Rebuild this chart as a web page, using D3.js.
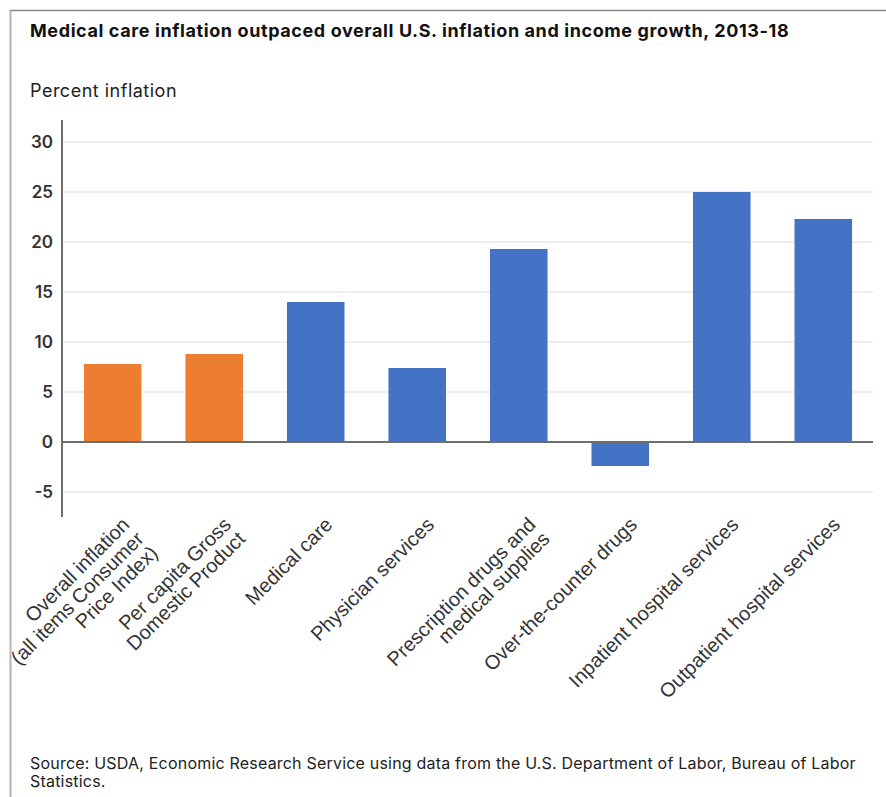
<!DOCTYPE html>
<html>
<head>
<meta charset="utf-8">
<script src="https://cdn.jsdelivr.net/npm/d3@7"></script>
<style>
  body { margin: 0; background: #fff; }
  svg { display: block; }
</style>
</head>
<body>
<svg width="886" height="797"></svg>
<script>
var categories = ["Overall inflation\n(all items Consumer\nPrice Index)", "Per capita Gross\nDomestic Product",
                  "Medical care", "Physician services", "Prescription drugs and\nmedical supplies",
                  "Over-the-counter drugs", "Inpatient hospital services", "Outpatient hospital services"]
var values = [7.8, 8.8, 14.0, 7.4, 19.3, -2.4, 25.0, 22.3]
var groups = ["overall", "overall", "medical", "medical", "medical", "medical", "medical", "medical"]
var yTicks = [-5, 0, 5, 10, 15, 20, 25, 30]

var width = 886, height = 797;
var plotLeft = 62, plotRight = 874;
var uiFont = "Inter, 'Open Sans', sans-serif";

var svg = d3.select('svg');

var color = d3.scaleOrdinal()
                .domain(["overall", "medical"])
                .range(["#ED7D31", "#4472C4"]);

var x = d3.scaleBand()
            .domain(d3.range(categories.length))
            .range([plotLeft, plotRight])
            .paddingInner(0.433)
            .paddingOuter(0.216);

var y = d3.scaleLinear()
            .domain([-7.5, 32.2])
            .range([517, 120]);

// frame
svg.append('line')
    .attr('x1', 10.5).attr('x2', 10.5)
    .attr('y1', 10).attr('y2', height)
    .attr('stroke', '#b4b4b4').attr('stroke-width', 2);
svg.append('line')
    .attr('x1', 10).attr('x2', width)
    .attr('y1', 10.5).attr('y2', 10.5)
    .attr('stroke', '#8a8a8a').attr('stroke-width', 1.5);

svg.append('text')
    .attr('x', 30).attr('y', 37)
    .style('font-family', uiFont)
    .style('font-weight', 700)
    .style('font-size', '18px')
    .style('letter-spacing', '0.6px')
    .attr('fill', '#111')
    .text("Medical care inflation outpaced overall U.S. inflation and income growth, 2013-18");

svg.append('text')
    .attr('x', 30).attr('y', 97)
    .style('font-family', uiFont)
    .style('font-size', '18px')
    .style('letter-spacing', '0.5px')
    .attr('fill', '#222')
    .text("Percent inflation");

// gridlines
svg.append('g').attr('class', 'grid')
    .selectAll('line')
    .data(yTicks.filter(function(d){return d != 0}))
    .enter()
    .append('line')
        .attr('x1', plotLeft).attr('x2', plotRight - 1)
        .attr('y1', function(d){return y(d)})
        .attr('y2', function(d){return y(d)})
        .attr('stroke', '#e8e8e8')
        .attr('stroke-width', 1.5);

// y axis labels
var yAxis = svg.append('g')
    .attr('transform', 'translate(' + 53 + ',0)')
    .call(d3.axisLeft(y).tickValues(yTicks).tickSize(0).tickPadding(0)
            .tickFormat(function(d){return String(d)}));
yAxis.select('.domain').remove();
yAxis.selectAll('text')
    .style('font-family', uiFont)
    .style('font-weight', 600)
    .style('font-size', '17px')
    .attr('fill', '#333');

// bars
svg.append('g').attr('class', 'bars')
    .selectAll('rect')
    .data(values)
    .enter()
    .append('rect')
        .attr('x', function(d, i){return x(i)})
        .attr('width', x.bandwidth())
        .attr('y', function(d){return y(Math.max(0, d))})
        .attr('height', function(d){return Math.abs(y(d) - y(0))})
        .attr('fill', function(d, i){return color(groups[i])});

// axis line + zero line
svg.append('line')
    .attr('x1', plotLeft).attr('x2', plotLeft)
    .attr('y1', y(32.2)).attr('y2', y(-7.5))
    .attr('stroke', '#6e6e6e').attr('stroke-width', 2);
svg.append('line')
    .attr('x1', plotLeft).attr('x2', plotRight - 1)
    .attr('y1', y(0)).attr('y2', y(0))
    .attr('stroke', '#6e6e6e').attr('stroke-width', 2);

// rotated category labels
var labels = svg.append('g').attr('class', 'xlabels')
    .selectAll('g')
    .data(categories)
    .enter()
    .append('g')
        .attr('transform', function(d, i){
            return 'translate(' + (x(i) + x.bandwidth()/2 + 18) + ',' + 526 + ') rotate(-45)'
        });

labels.append('text')
    .style('font-family', "'Liberation Sans', Arial, sans-serif")
    .style('font-size', '20px')
    .style('text-anchor', 'end')
    .attr('fill', '#333')
    .selectAll('tspan')
    .data(function(d){return d.split('\n')})
    .enter()
    .append('tspan')
        .attr('x', 0)
        .attr('dy', function(d, i){return i == 0 ? 0 : 20})
        .text(function(d){return d});

// source
var source = svg.append('text')
    .attr('x', 30).attr('y', 769)
    .style('font-family', uiFont)
    .style('font-size', '16px')
    .style('letter-spacing', '0.2px')
    .attr('fill', '#222');
source.append('tspan').attr('x', 30)
    .text("Source: USDA, Economic Research Service using data from the U.S. Department of Labor, Bureau of Labor");
source.append('tspan').attr('x', 30).attr('dy', 18)
    .text("Statistics.");
</script>
</body>
</html>
